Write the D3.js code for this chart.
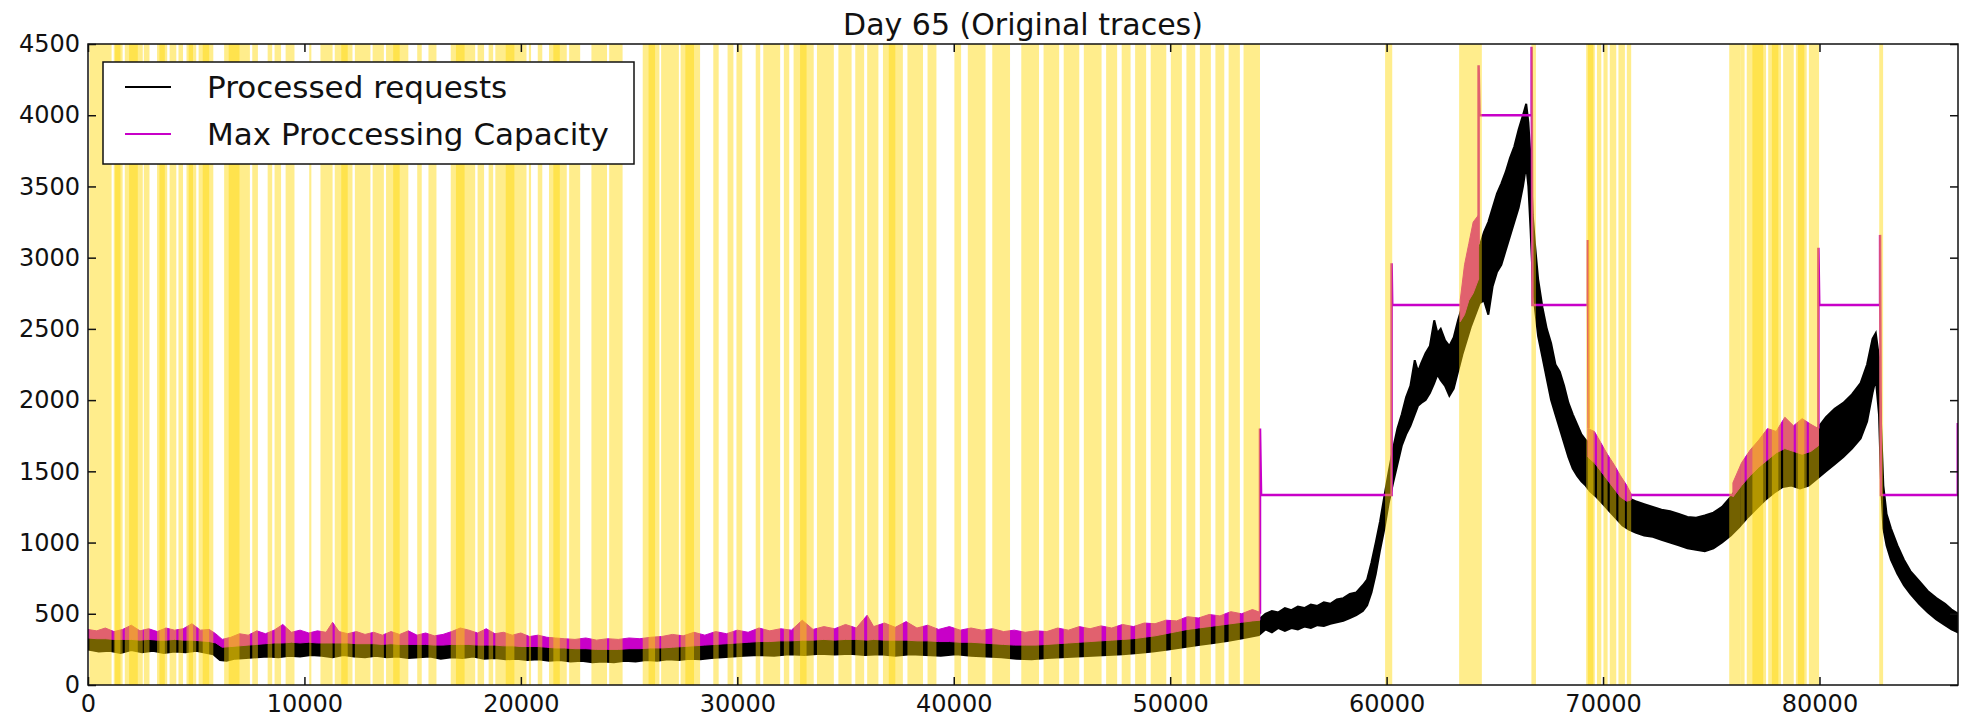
<!DOCTYPE html>
<html>
<head>
<meta charset="utf-8">
<title>Day 65 (Original traces)</title>
<script src="https://d3js.org/d3.v7.min.js"></script>
<style>
    body { margin: 0; background: #fff; }
    #chart { width: 1970px; height: 719px; }
    text { font-family: "DejaVu Sans", sans-serif; fill: #111; }
</style>
</head>
<body>
<div id="chart"></div>
<script>

// chart text
let chartTitle = "Day 65 (Original traces)";
let seriesNames = ["Processed requests", "Max Proccessing Capacity"];

// tick values
let xTicks = [0, 10000, 20000, 30000, 40000, 50000, 60000, 70000, 80000];
let yTicks = [0, 500, 1000, 1500, 2000, 2500, 3000, 3500, 4000, 4500];

// processed requests: [time, low edge, high edge] of the noisy trace
let requests = [
    [0, 250, 340], [500, 235, 345], [1000, 240, 330], [1500, 225, 335], [2000, 245, 325],
    [2500, 230, 330], [3000, 240, 320], [3500, 225, 330], [4000, 235, 325], [4500, 230, 335],
    [5000, 240, 320], [5500, 225, 330], [5800, 215, 315], [6100, 175, 280], [6400, 170, 270],
    [6800, 185, 280], [7300, 190, 290], [7800, 195, 285], [8300, 200, 300], [8800, 195, 295],
    [9300, 205, 310], [9800, 200, 300], [10300, 210, 310], [10800, 205, 305], [11300, 195, 300],
    [11800, 210, 310], [12300, 200, 300], [12800, 195, 305], [13300, 205, 300], [13800, 195, 295],
    [14300, 200, 305], [14800, 190, 295], [15300, 195, 300], [15800, 200, 295], [16300, 185, 290],
    [16800, 195, 300], [17300, 190, 295], [17800, 200, 300], [18300, 185, 290], [18800, 190, 285],
    [19300, 180, 290], [19800, 185, 280], [20300, 175, 285], [20800, 180, 280], [21300, 170, 275],
    [21800, 175, 270], [22300, 165, 270], [22800, 170, 265], [23300, 160, 270], [23800, 165, 265],
    [24300, 160, 260], [24800, 170, 270], [25300, 165, 265], [25800, 175, 275], [26300, 170, 270],
    [26800, 180, 280], [27300, 175, 285], [27800, 185, 285], [28300, 180, 290], [28800, 190, 295],
    [29300, 195, 300], [29800, 200, 305], [30300, 205, 310], [31000, 210, 315], [31700, 205, 320],
    [32400, 215, 325], [33100, 210, 330], [33800, 220, 325], [34500, 215, 330], [35200, 220, 335],
    [35900, 210, 330], [36600, 215, 325], [37300, 205, 330], [38000, 215, 320], [38700, 210, 325],
    [39400, 205, 315], [40100, 215, 320], [40800, 205, 310], [41500, 200, 315], [42200, 195, 305],
    [42900, 185, 300], [43600, 180, 295], [44300, 190, 300], [45000, 195, 305], [45700, 200, 310],
    [46400, 205, 315], [47100, 210, 320], [47800, 215, 325], [48500, 225, 330], [49200, 235, 345],
    [49900, 250, 360], [50600, 265, 380], [51300, 280, 395], [52000, 295, 410], [52700, 310, 425],
    [53400, 330, 440], [54100, 350, 460], [54400, 390, 500], [54700, 370, 520], [55000, 400, 510],
    [55300, 380, 540], [55600, 400, 525], [55900, 390, 550], [56200, 410, 540], [56500, 400, 565],
    [56800, 420, 555], [57100, 415, 580], [57400, 430, 570], [57700, 440, 600], [58000, 450, 610],
    [58300, 470, 640], [58600, 490, 650], [58900, 520, 700], [59100, 560, 740], [59300, 650, 860],
    [59500, 780, 1000], [59700, 950, 1150], [59900, 1100, 1330], [60100, 1280, 1500], [60300, 1420, 1660],
    [60500, 1550, 1800], [60700, 1680, 1900], [60900, 1760, 2020], [61100, 1820, 2100], [61300, 1900, 2280],
    [61450, 1960, 2200], [61600, 1980, 2260], [61800, 2000, 2330], [62000, 2050, 2380], [62200, 2120, 2560],
    [62350, 2180, 2470], [62500, 2140, 2500], [62700, 2100, 2420], [62900, 2030, 2380], [63100, 2080, 2440],
    [63300, 2200, 2560], [63500, 2320, 2660], [63700, 2420, 2780], [63900, 2520, 2880], [64100, 2600, 3000],
    [64300, 2680, 3080], [64500, 2700, 3180], [64700, 2600, 3250], [64900, 2800, 3350], [65100, 2900, 3450],
    [65300, 2950, 3520], [65500, 3050, 3600], [65700, 3150, 3700], [65900, 3250, 3780], [66100, 3350, 3900],
    [66300, 3500, 4000], [66450, 3650, 4080], [66550, 3500, 3950], [66650, 3200, 3700], [66750, 2850, 3300],
    [66850, 2650, 3100], [67000, 2450, 2850], [67200, 2300, 2650], [67400, 2150, 2500], [67600, 2000, 2400],
    [67800, 1900, 2250], [68000, 1800, 2200], [68200, 1700, 2100], [68400, 1600, 1980], [68600, 1520, 1900],
    [68800, 1470, 1830], [69000, 1430, 1760], [69200, 1400, 1720], [69400, 1360, 1690], [69700, 1320, 1620],
    [70000, 1270, 1580], [70300, 1220, 1480], [70600, 1170, 1400], [70900, 1120, 1350], [71200, 1090, 1310],
    [71500, 1070, 1290], [71900, 1050, 1270], [72300, 1040, 1250], [72700, 1020, 1230], [73100, 1000, 1220],
    [73500, 980, 1200], [73900, 960, 1180], [74300, 950, 1175], [74700, 940, 1190], [75100, 960, 1210],
    [75500, 1000, 1250], [75900, 1050, 1320], [76300, 1110, 1410], [76700, 1180, 1480], [77100, 1240, 1540],
    [77500, 1300, 1600], [77900, 1350, 1650], [78300, 1390, 1700], [78700, 1400, 1730], [79100, 1380, 1700],
    [79500, 1400, 1720], [79900, 1450, 1800], [80300, 1500, 1880], [80700, 1550, 1940], [81100, 1600, 1980],
    [81500, 1660, 2040], [81900, 1730, 2120], [82200, 1850, 2250], [82450, 2050, 2430], [82600, 2150, 2470],
    [82750, 1900, 2300], [82850, 1400, 1800], [82950, 1100, 1400], [83100, 980, 1200], [83300, 880, 1100],
    [83600, 780, 980], [83900, 700, 880], [84200, 640, 800], [84600, 570, 730], [85000, 510, 660],
    [85400, 460, 610], [85800, 420, 570], [86100, 390, 530], [86400, 370, 500]
];

// capacity where it follows the load: [time, low edge, high edge], null = break
let capacityNoisy = [
    [0, 330, 390], [400, 325, 380], [800, 325, 400], [1200, 320, 375], [1600, 320, 390],
    [2000, 320, 420], [2400, 315, 380], [2800, 320, 395], [3200, 315, 375], [3600, 315, 400],
    [4000, 320, 385], [4400, 315, 395], [4800, 315, 430], [5200, 310, 385], [5600, 305, 390],
    [5900, 295, 360], [6200, 265, 320], [6600, 270, 335], [7000, 275, 360], [7400, 280, 350],
    [7800, 285, 380], [8200, 290, 360], [8600, 295, 385], [9000, 295, 425], [9400, 300, 370],
    [9800, 295, 385], [10200, 300, 365], [10600, 295, 380], [11000, 295, 370], [11300, 295, 440],
    [11600, 295, 375], [12000, 295, 360], [12400, 290, 375], [12800, 290, 355], [13200, 290, 370],
    [13600, 285, 350], [14000, 290, 375], [14400, 285, 355], [14800, 285, 380], [15200, 285, 350],
    [15600, 285, 365], [16000, 280, 345], [16400, 280, 355], [16800, 285, 375], [17200, 285, 400],
    [17600, 285, 385], [18000, 280, 365], [18400, 280, 395], [18800, 280, 360], [19200, 275, 370],
    [19600, 275, 350], [20000, 270, 365], [20400, 270, 340], [20800, 270, 350], [21200, 265, 335],
    [21600, 260, 330], [22000, 260, 325], [22500, 255, 320], [23000, 255, 330], [23500, 250, 315],
    [24000, 250, 325], [24500, 250, 320], [25000, 255, 330], [25500, 255, 325], [26000, 260, 335],
    [26500, 260, 340], [27000, 265, 355], [27500, 270, 345], [28000, 275, 370], [28500, 280, 350],
    [29000, 285, 375], [29500, 290, 360], [30000, 295, 385], [30500, 300, 370], [31000, 305, 400],
    [31500, 305, 380], [32000, 310, 395], [32500, 310, 385], [33000, 315, 455], [33500, 315, 390],
    [34000, 320, 410], [34500, 315, 395], [35000, 320, 425], [35500, 320, 400], [36000, 315, 490],
    [36300, 320, 410], [36800, 315, 435], [37300, 315, 405], [37800, 315, 445], [38300, 310, 400],
    [38800, 310, 420], [39300, 305, 390], [39800, 305, 410], [40300, 300, 385], [40800, 300, 400],
    [41300, 295, 385], [41800, 290, 395], [42300, 285, 375], [42800, 280, 385], [43300, 280, 370],
    [43800, 280, 380], [44300, 285, 375], [44800, 290, 400], [45300, 295, 385], [45800, 300, 410],
    [46300, 305, 395], [46800, 310, 415], [47300, 315, 400], [47800, 320, 425], [48300, 325, 410],
    [48800, 335, 435], [49300, 345, 430], [49800, 360, 455], [50300, 375, 450], [50800, 390, 480],
    [51300, 400, 470], [51800, 410, 495], [52300, 420, 485], [52800, 430, 515], [53300, 440, 500],
    [53800, 450, 530], [54150, 455, 510],
    null,
    [63400, 2550, 2700], [63600, 2600, 2950], [63800, 2700, 3100], [64000, 2750, 3250], [64250, 2850, 3300],
    null,
    [69300, 1600, 1800], [69600, 1560, 1780], [69900, 1500, 1700], [70200, 1440, 1620], [70500, 1380, 1550],
    [70800, 1320, 1470], [71100, 1290, 1400], [71300, 1300, 1340],
    null,
    [76000, 1320, 1420], [76400, 1400, 1560], [76800, 1470, 1650], [77200, 1530, 1720], [77600, 1580, 1800],
    [78000, 1630, 1780], [78400, 1660, 1880], [78800, 1640, 1820], [79200, 1620, 1870], [79600, 1640, 1830],
    [79950, 1680, 1800]
];

// capacity where it is held at fixed levels: [time, value], null = break
let capacitySteps = [
    [54150, 500], [54150, 1800], [54200, 1333], [60230, 1333], [60230, 2960], [60260, 2667], [63400, 2667],
    null,
    [64250, 3100], [64250, 4350], [64290, 4000], [66700, 4000], [66700, 4480], [66740, 2667], [69300, 2667],
    [69300, 3124], [69330, 1800],
    null,
    [71300, 1333], [76000, 1333],
    null,
    [79950, 1800], [79950, 3070], [79990, 2667], [82800, 2667], [82800, 3160], [82840, 1333], [86390, 1333],
    [86390, 1840]
];

// highlighted intervals: [start, end] (overlapping intervals show darker)
let intervals = [
    [60, 1090], [1190, 1600], [1250, 1500], [1700, 2530], [1900, 2300], [2580, 2840], [3190, 3660],
    [3300, 3550], [3770, 4080], [4180, 4390], [4550, 5000], [4650, 4850], [5110, 5790], [5300, 5600],
    [6290, 7480], [6500, 7000], [7590, 7850], [8300, 8510], [8620, 8920], [9130, 9540],
    [10220, 10320], [10740, 11300], [11400, 12220], [11700, 12000], [12330, 13050], [13150, 13670],
    [13770, 14800], [14100, 14400], [15210, 15420], [15730, 16100], [16760, 17890], [17000, 17400],
    [18000, 18300], [18510, 18720], [18820, 20260], [19300, 19700], [20370, 20470], [20780, 20990],
    [21300, 22120], [21500, 21800], [22230, 22740], [23260, 23980], [24080, 24700],
    [25630, 26400], [25900, 26200], [26480, 27300], [27380, 28280], [27600, 28000], [28890, 29140],
    [29550, 29820], [29960, 30230], [30850, 31060], [31200, 31980], [32150, 32400], [32600, 33530],
    [32900, 33200], [33680, 34460], [34670, 35280], [35450, 35860], [36000, 36520], [36730, 37650],
    [37000, 37300], [37860, 38580], [38790, 39200], [40030, 40340], [40650, 41470], [41780, 42600],
    [43120, 43940], [44150, 44870], [45080, 45800], [46010, 46830], [47040, 47550], [47760, 48170],
    [48380, 48890], [49100, 49820], [50030, 50540], [50750, 51160], [51370, 51880], [52090, 52500],
    [52700, 53220], [53390, 54150],
    [59930, 60260], [63350, 64400], [66690, 66900], [69220, 69620], [69300, 69550],
    [69720, 69920], [70020, 70210], [70310, 70610], [70710, 71010], [71100, 71300], [75830, 76340],
    [76340, 76540], [76640, 77530], [76900, 77400], [77630, 78220], [77800, 78100], [78320, 78810],
    [78910, 79410], [79000, 79300], [79510, 79980], [82760, 82940]
];

class TraceVis {

    constructor(parentElement) {
        this.parentElement = parentElement;
        this.initVis();
    }

    initVis() {
        let vis = this;

        // margins and svg area
        vis.margin = {top: 44, right: 12, bottom: 34, left: 88};
        vis.width = 1970 - vis.margin.left - vis.margin.right;
        vis.height = 719 - vis.margin.top - vis.margin.bottom;

        vis.root = d3.select("#" + vis.parentElement).append("svg")
            .attr("width", 1970)
            .attr("height", 719);

        vis.svg = vis.root.append("g")
            .attr("transform", "translate(" + vis.margin.left + "," + vis.margin.top + ")");

        // scales
        vis.x = d3.scaleLinear().domain([0, 86400]).range([0, vis.width]);
        vis.y = d3.scaleLinear().domain([0, 4500]).range([vis.height, 0]);

        vis.svg.append("defs").append("clipPath")
            .attr("id", "clip")
            .append("rect")
            .attr("width", vis.width)
            .attr("height", vis.height);

        vis.plot = vis.svg.append("g").attr("clip-path", "url(#clip)");

        // processed requests
        let reqArea = d3.area()
            .x(d => vis.x(d[0]))
            .y0(d => vis.y(d[1]))
            .y1(d => vis.y(d[2]));

        vis.plot.append("path")
            .datum(requests)
            .attr("d", reqArea)
            .attr("fill", "#000")
            .attr("stroke", "#000")
            .attr("stroke-width", 2);

        // capacity, noisy part
        let capArea = d3.area()
            .defined(d => d !== null)
            .x(d => vis.x(d[0]))
            .y0(d => vis.y(d[1]))
            .y1(d => vis.y(d[2]));

        vis.plot.append("path")
            .datum(capacityNoisy)
            .attr("d", capArea)
            .attr("fill", "#c800c8")
            .attr("stroke", "#c800c8")
            .attr("stroke-width", 1);

        // capacity, step part
        let capLine = d3.line()
            .defined(d => d !== null)
            .x(d => vis.x(d[0]))
            .y(d => vis.y(d[1]));

        vis.plot.append("path")
            .datum(capacitySteps)
            .attr("d", capLine)
            .attr("fill", "none")
            .attr("stroke", "#c800c8")
            .attr("stroke-width", 2.5);

        // highlighted intervals on top
        vis.plot.selectAll(".span")
            .data(intervals)
            .enter().append("rect")
            .attr("class", "span")
            .attr("x", d => vis.x(d[0]))
            .attr("width", d => vis.x(d[1]) - vis.x(d[0]))
            .attr("y", 0)
            .attr("height", vis.height)
            .attr("fill", "#ffd700")
            .attr("fill-opacity", 0.45);

        // axes, ticks pointing inward on all sides
        vis.xAxis = d3.axisBottom(vis.x).tickValues(xTicks).tickSizeInner(-8).tickSizeOuter(0)
            .tickPadding(10).tickFormat(d3.format("d"));
        vis.yAxis = d3.axisLeft(vis.y).tickValues(yTicks).tickSizeInner(-8).tickSizeOuter(0)
            .tickPadding(8).tickFormat(d3.format("d"));

        vis.svg.append("g")
            .attr("class", "x-axis axis")
            .attr("transform", "translate(0," + vis.height + ")")
            .call(vis.xAxis);
        vis.svg.append("g")
            .attr("class", "y-axis axis")
            .call(vis.yAxis);
        vis.svg.append("g")
            .attr("class", "axis")
            .call(d3.axisTop(vis.x).tickValues(xTicks).tickSizeInner(-8).tickSizeOuter(0).tickFormat(""));
        vis.svg.append("g")
            .attr("class", "axis")
            .attr("transform", "translate(" + vis.width + ",0)")
            .call(d3.axisRight(vis.y).tickValues(yTicks).tickSizeInner(-8).tickSizeOuter(0).tickFormat(""));

        vis.svg.selectAll(".axis .domain").remove();
        vis.svg.selectAll(".axis line").attr("stroke", "#111").attr("stroke-width", 1.5);
        vis.svg.selectAll(".axis text")
            .attr("font-family", "DejaVu Sans, sans-serif")
            .attr("font-size", 24)
            .attr("fill", "#111");

        // frame
        vis.svg.append("rect")
            .attr("width", vis.width)
            .attr("height", vis.height)
            .attr("fill", "none")
            .attr("stroke", "#111")
            .attr("stroke-width", 1.5);

        // title
        vis.svg.append("text")
            .attr("x", vis.width / 2)
            .attr("y", -9)
            .attr("text-anchor", "middle")
            .attr("font-size", 30)
            .text(chartTitle);

        // legend
        let legend = vis.svg.append("g").attr("transform", "translate(15,18)");
        legend.append("rect")
            .attr("width", 531)
            .attr("height", 102)
            .attr("fill", "#fff")
            .attr("stroke", "#111")
            .attr("stroke-width", 1.5);

        let legendColors = ["#000", "#c800c8"];
        seriesNames.forEach(function (name, i) {
            let row = legend.append("g").attr("transform", "translate(0," + (25 + i * 47) + ")");
            row.append("line")
                .attr("x1", 22).attr("x2", 68)
                .attr("stroke", legendColors[i])
                .attr("stroke-width", 2);
            row.append("text")
                .attr("x", 104)
                .attr("y", 11)
                .attr("font-size", 31)
                .text(name);
        });
    }
}

let traceVis = new TraceVis("chart");

</script>
</body>
</html>
